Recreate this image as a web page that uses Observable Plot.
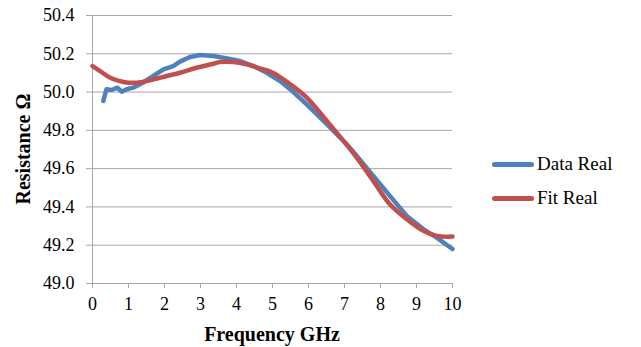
<!DOCTYPE html>
<html>
<head>
<meta charset="utf-8">
<script src="https://cdn.jsdelivr.net/npm/d3@7"></script>
<script src="https://cdn.jsdelivr.net/npm/@observablehq/plot@0.6"></script>
<style>
  body { margin: 0; background: #fff; }
  #wrap { position: relative; width: 641px; height: 347px; font-family: "Liberation Serif", serif; }
  #wrap svg { position: absolute; left: 0; top: 0; }
  #wrap svg text { font-family: "Liberation Serif", serif !important; }
  .ttl { position: absolute; font-family: "Liberation Serif", serif; font-weight: bold; font-size: 20px; color: #000; white-space: nowrap; }
  .leg { position: absolute; font-family: "Liberation Serif", serif; font-size: 19px; color: #000; white-space: nowrap; display: flex; align-items: center; }
  .leg span.sw { display: inline-block; width: 42px; height: 5px; border-radius: 3px; margin-right: 3px; }
</style>
</head>
<body>
<div id="wrap"></div>
<script>
// Data Real (blue)
const dataFreq = [0.3,0.39,0.53,0.69,0.81,0.95,1.13,1.41,1.69,1.97,2.24,2.43,2.71,2.99,3.36,3.74,4.1,4.47,4.84,5.21,5.49,5.95,6.51,7.06,7.34,7.8,8.26,8.73,9.19,9.56,10];
const dataReal = [49.954,50.015,50.011,50.023,50.002,50.015,50.023,50.05,50.084,50.119,50.136,50.159,50.183,50.194,50.188,50.176,50.162,50.136,50.101,50.058,50.015,49.936,49.832,49.728,49.667,49.562,49.458,49.353,49.284,49.24,49.18];
// Fit Real (red)
const fitFreq = [0,0.21,0.49,0.86,1.23,1.6,2.06,2.43,2.89,3.36,3.54,3.9,4.28,4.65,5.02,5.49,5.95,6.51,6.97,7.34,7.8,8.26,8.73,9.19,9.56,10];
const fitReal = [50.136,50.11,50.075,50.053,50.049,50.062,50.084,50.101,50.127,50.148,50.157,50.157,50.145,50.124,50.1,50.041,49.971,49.849,49.745,49.658,49.536,49.414,49.336,49.275,49.249,49.245];

const xTicks = [0,1,2,3,4,5,6,7,8,9,10];
const yTicks = [49.0,49.2,49.4,49.6,49.8,50.0,50.2,50.4];
const seriesNames = ["Data Real", "Fit Real"];
const seriesColors = ["#4f81bd", "#c0504d"];
const xTitle = "Frequency GHz";
const yTitle = "Resistance Ω";

const dataRows = dataFreq.map((f, i) => ({f, r: dataReal[i]}));
const fitRows = fitFreq.map((f, i) => ({f, r: fitReal[i]}));
const gray = "#a6a6a6";

const chart = Plot.plot({
  width: 641,
  height: 347,
  marginLeft: 92,
  marginRight: 189,
  marginTop: 15,
  marginBottom: 64,
  style: { fontFamily: "Liberation Serif, serif", background: "#fff", overflow: "visible" },
  x: { domain: [0, 10] },
  y: { domain: [49.0, 50.4] },
  marks: [
    Plot.gridY(yTicks, { stroke: gray, strokeOpacity: 1, strokeWidth: 1 }),
    Plot.axisY(yTicks, { tickSize: 6, tickPadding: 12, stroke: gray, fill: "#000", fontSize: 18, tickFormat: d3.format(".1f"), label: null }),
    Plot.axisX(xTicks, { tickSize: 5, tickPadding: 9, stroke: gray, fill: "#000", fontSize: 18, tickFormat: d3.format("d"), label: null }),
    Plot.ruleX([0], { stroke: gray, strokeWidth: 1 }),
    Plot.ruleY([49.0], { stroke: gray, strokeWidth: 1 }),
    Plot.line(dataRows, { x: "f", y: "r", stroke: seriesColors[0], strokeWidth: 4.5, curve: "linear", strokeLinejoin: "round" }),
    Plot.line(fitRows, { x: "f", y: "r", stroke: seriesColors[1], strokeWidth: 4.5, curve: "catmull-rom" })
  ]
});

const wrap = document.getElementById("wrap");
wrap.appendChild(chart);

const xt = document.createElement("div");
xt.className = "ttl";
xt.textContent = xTitle;
xt.style.left = "272px";
xt.style.top = "323px";
xt.style.transform = "translateX(-50%)";
wrap.appendChild(xt);

const yt = document.createElement("div");
yt.className = "ttl";
yt.textContent = yTitle;
yt.style.left = "23px";
yt.style.top = "149px";
yt.style.transform = "translate(-50%, -50%) rotate(-90deg)";
wrap.appendChild(yt);

const legTops = [153, 187];
seriesNames.forEach((name, i) => {
  const d = document.createElement("div");
  d.className = "leg";
  d.style.left = "492px";
  d.style.top = legTops[i] + "px";
  const sw = document.createElement("span");
  sw.className = "sw";
  sw.style.background = seriesColors[i];
  d.appendChild(sw);
  d.appendChild(document.createTextNode(name));
  wrap.appendChild(d);
});
</script>
</body>
</html>
